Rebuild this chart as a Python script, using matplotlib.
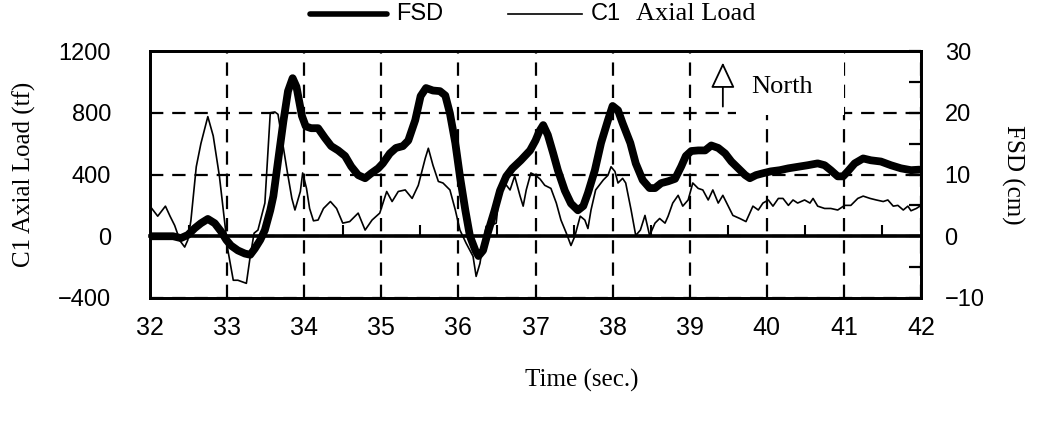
import numpy as np
import matplotlib
matplotlib.use("Agg")
import matplotlib.pyplot as plt
from matplotlib.lines import Line2D
from matplotlib.patches import Rectangle
from matplotlib import font_manager

# ---- data -------------------------------------------------------------
c1_time = [32.00, 32.10, 32.20, 32.26, 32.32, 32.39, 32.45, 32.49, 32.53, 32.60,
           32.66, 32.75, 32.82, 32.90, 32.97, 33.01, 33.08, 33.14, 33.25, 33.30,
           33.35, 33.40, 33.49, 33.56, 33.62, 33.66, 33.71, 33.78, 33.84, 33.88,
           33.95, 33.98, 34.03, 34.07, 34.12, 34.18, 34.25, 34.34, 34.42, 34.50,
           34.59, 34.70, 34.79, 34.88, 34.98, 35.07, 35.14, 35.22, 35.31, 35.40,
           35.48, 35.57, 35.61, 35.67, 35.74, 35.80, 35.89, 35.96, 36.02, 36.10,
           36.19, 36.23, 36.28, 36.32, 36.36, 36.42, 36.49, 36.54, 36.60, 36.67,
           36.73, 36.80, 36.84, 36.88, 36.94, 37.00, 37.06, 37.12, 37.20, 37.27,
           37.33, 37.40, 37.46, 37.51, 37.58, 37.64, 37.68, 37.72, 37.78, 37.88,
           37.94, 37.98, 38.03, 38.07, 38.13, 38.17, 38.24, 38.30, 38.36, 38.42,
           38.48, 38.55, 38.61, 38.68, 38.72, 38.78, 38.85, 38.91, 38.98, 39.04,
           39.11, 39.17, 39.24, 39.30, 39.37, 39.43, 39.50, 39.56, 39.65, 39.73,
           39.82, 39.89, 39.95, 40.02, 40.08, 40.15, 40.21, 40.28, 40.34, 40.40,
           40.49, 40.56, 40.60, 40.66, 40.75, 40.83, 40.92, 41.01, 41.09, 41.18,
           41.25, 41.34, 41.42, 41.51, 41.57, 41.64, 41.70, 41.77, 41.83, 41.87,
           41.94, 42.00]
c1_load = [195, 130, 195, 130, 70, -30, -70, -25, 100, 450,
           600, 775, 650, 390, 85, -90, -285, -285, -305, -130,
           20, 40, 215, 800, 805, 790, 635, 420, 245, 170,
           290, 410, 310, 180, 100, 105, 180, 225, 180, 85,
           95, 150, 40, 105, 150, 290, 225, 290, 300, 245,
           330, 505, 570, 460, 355, 345, 300, 170, 40, -45,
           -130, -260, -175, -45, 65, 70, 85, 325, 345, 300,
           390, 260, 195, 300, 410, 395, 370, 330, 310, 215,
           105, 20, -60, 0, 130, 105, 50, 170, 300, 365,
           395, 450, 420, 345, 375, 345, 170, 5, 40, 135,
           5, 85, 115, 85, 130, 215, 265, 195, 235, 345,
           310, 300, 235, 300, 215, 265, 195, 135, 115, 95,
           195, 170, 215, 235, 195, 245, 245, 200, 235, 215,
           235, 215, 245, 195, 180, 180, 170, 200, 200, 245,
           260, 245, 235, 225, 235, 195, 200, 170, 195, 165,
           180, 200]

fsd_time = [32.00, 32.30, 32.40, 32.49, 32.58, 32.66, 32.75, 32.84, 32.92, 32.99,
            33.05, 33.14, 33.23, 33.30, 33.36, 33.43, 33.49, 33.56, 33.60, 33.66,
            33.73, 33.79, 33.85, 33.90, 33.97, 34.02, 34.09, 34.18, 34.27, 34.35,
            34.44, 34.53, 34.61, 34.70, 34.79, 34.87, 34.96, 35.02, 35.11, 35.19,
            35.28, 35.35, 35.44, 35.51, 35.58, 35.67, 35.76, 35.83, 35.89, 35.96,
            36.02, 36.09, 36.15, 36.22, 36.26, 36.32, 36.38, 36.47, 36.54, 36.62,
            36.70, 36.81, 36.93, 37.00, 37.05, 37.10, 37.16, 37.23, 37.29, 37.38,
            37.46, 37.55, 37.62, 37.68, 37.77, 37.85, 37.94, 38.00, 38.07, 38.13,
            38.23, 38.30, 38.39, 38.48, 38.55, 38.63, 38.72, 38.81, 38.89, 38.95,
            39.02, 39.11, 39.20, 39.28, 39.37, 39.46, 39.54, 39.63, 39.72, 39.78,
            39.86, 39.95, 40.05, 40.17, 40.28, 40.38, 40.53, 40.66, 40.75, 40.83,
            40.92, 40.99, 41.05, 41.14, 41.25, 41.35, 41.48, 41.61, 41.74, 41.87,
            42.00]
fsd_cm = [0.0, 0.0, -0.3, 0.2, 1.3, 2.1, 2.8, 2.1, 0.8, -0.6,
          -1.5, -2.3, -2.8, -3.0, -2.0, -0.6, 1.0, 4.2, 6.5, 12.1,
          18.6, 23.5, 25.6, 24.2, 19.5, 17.8, 17.5, 17.5, 15.9, 14.6,
          13.9, 13.0, 11.3, 9.9, 9.4, 10.2, 11.0, 11.8, 13.4, 14.3,
          14.6, 15.5, 18.8, 22.7, 24.0, 23.6, 23.5, 22.8, 19.9, 15.1,
          9.7, 4.2, 0.0, -2.3, -3.2, -2.3, 0.5, 4.2, 7.4, 9.7,
          11.0, 12.3, 13.9, 15.5, 17.0, 18.0, 16.4, 13.4, 10.7, 7.4,
          5.3, 4.2, 4.9, 7.0, 10.7, 15.1, 18.8, 21.1, 20.4, 18.3,
          15.1, 11.8, 9.1, 7.8, 7.8, 8.6, 8.9, 9.3, 11.3, 13.0,
          13.8, 13.9, 13.9, 14.7, 14.3, 13.4, 12.1, 11.0, 9.9, 9.4,
          9.9, 10.2, 10.5, 10.7, 11.0, 11.2, 11.5, 11.8, 11.5, 10.7,
          9.7, 9.7, 10.5, 11.8, 12.6, 12.3, 12.1, 11.5, 11.0, 10.7,
          10.8]

x_ticks = list(range(32, 43))
load_ticks = [-400, 0, 400, 800, 1200]
fsd_ticks = [-10, 0, 10, 20, 30]

# ---- fonts ------------------------------------------------------------
available = {f.name for f in font_manager.fontManager.ttflist}
SANS = "Liberation Sans" if "Liberation Sans" in available else "DejaVu Sans"
NARROW = "Liberation Sans Narrow" if "Liberation Sans Narrow" in available else SANS
SERIF = "Liberation Serif" if "Liberation Serif" in available else "DejaVu Serif"


def signed(v):
    return f"{v}" if v >= 0 else f"\u2212{abs(v)}"


# ---- figure -----------------------------------------------------------
W, H = 1043, 429
fig = plt.figure(figsize=(W / 100, H / 100), dpi=100)
ax = fig.add_axes([150 / W, 1 - 298 / H, (921 - 150) / W, (298 - 51) / H])

ax.set_xlim(32, 42)
ax.set_ylim(-400, 1200)

# dashed grid
ax.set_xticks(x_ticks)
ax.set_yticks(load_ticks)
ax.grid(True, color="black", linestyle=(0, (6, 4)), linewidth=1.6)
ax.set_axisbelow("line")

# blank panel behind the compass note
ax.add_patch(Rectangle((39.6, 785), 1.4, 420, facecolor="white",
                       edgecolor="none", zorder=1.7))

# zero line with half-second ticks
zero_axis = ax.secondary_xaxis(0.25)
zero_axis.set_xticks(np.arange(32.5, 42, 1.0))
zero_axis.tick_params(direction="in", length=8, width=1.5, labelbottom=False)
zero_axis.spines["bottom"].set_linewidth(2.6)

ax.plot(c1_time, c1_load, color="black", linewidth=1.2, zorder=2)

ax.tick_params(axis="x", length=0, pad=13)
ax.tick_params(axis="y", length=0, pad=28)
ax.set_yticklabels([signed(v) for v in load_ticks])
for lab in ax.get_xticklabels():
    lab.set_fontfamily(NARROW)
    lab.set_fontsize(18)
for lab in ax.get_yticklabels():
    lab.set_fontfamily(SANS)
    lab.set_fontsize(17)

for sp in ax.spines.values():
    sp.set_linewidth(2.0)

ax2 = ax.twinx()
ax2.set_ylim(-10, 30)
ax2.set_yticks(fsd_ticks)
ax2.set_yticks([-5, 5, 15, 25], minor=True)
ax2.tick_params(axis="y", which="both", direction="in", length=9, width=1.6,
                pad=17)
ax2.set_yticklabels([signed(v) for v in fsd_ticks])
for lab in ax2.get_yticklabels():
    lab.set_fontfamily(SANS)
    lab.set_fontsize(17)
for sp in ax2.spines.values():
    sp.set_linewidth(2.0)

ax2.plot(fsd_time, fsd_cm, color="black", linewidth=5.6,
         solid_capstyle="round", solid_joinstyle="round", zorder=3)

# axis titles
ax.set_ylabel("C1 Axial Load (tf)", fontfamily=SERIF, fontsize=18, labelpad=16)
ax2.set_ylabel("FSD (cm)", fontfamily=SERIF, fontsize=18, rotation=-90,
               labelpad=12, va="bottom")
fig.text(582 / W, 1 - 380 / H, "Time (sec.)", fontfamily=SERIF, fontsize=18,
         ha="center", va="center")

# compass note
ax.annotate("", xy=(39.43, 1125), xytext=(39.43, 840),
            arrowprops=dict(arrowstyle="-|>,head_length=1.6,head_width=0.75",
                            facecolor="white", edgecolor="black", linewidth=1.3,
                            shrinkA=0, shrinkB=0))
ax.text(39.8, 965, "North", fontfamily=SERIF, fontsize=19, va="center", ha="left")

# legend drawn above the frame
ly = 1 - 14 / H
fig.add_artist(Line2D([310 / W, 387 / W], [ly, ly], color="black", linewidth=4.0,
                      solid_capstyle="round"))
fig.text(396 / W, ly, "FSD", fontfamily=SANS, fontsize=17, va="center", ha="left")
fig.add_artist(Line2D([508 / W, 582 / W], [ly, ly], color="black", linewidth=1.2))
fig.text(591 / W, ly, "C1", fontfamily=SANS, fontsize=17, va="center", ha="left")
fig.text(636 / W, ly, "Axial Load", fontfamily=SERIF, fontsize=19, va="center",
         ha="left")

fig.savefig("out.png", dpi=100)
